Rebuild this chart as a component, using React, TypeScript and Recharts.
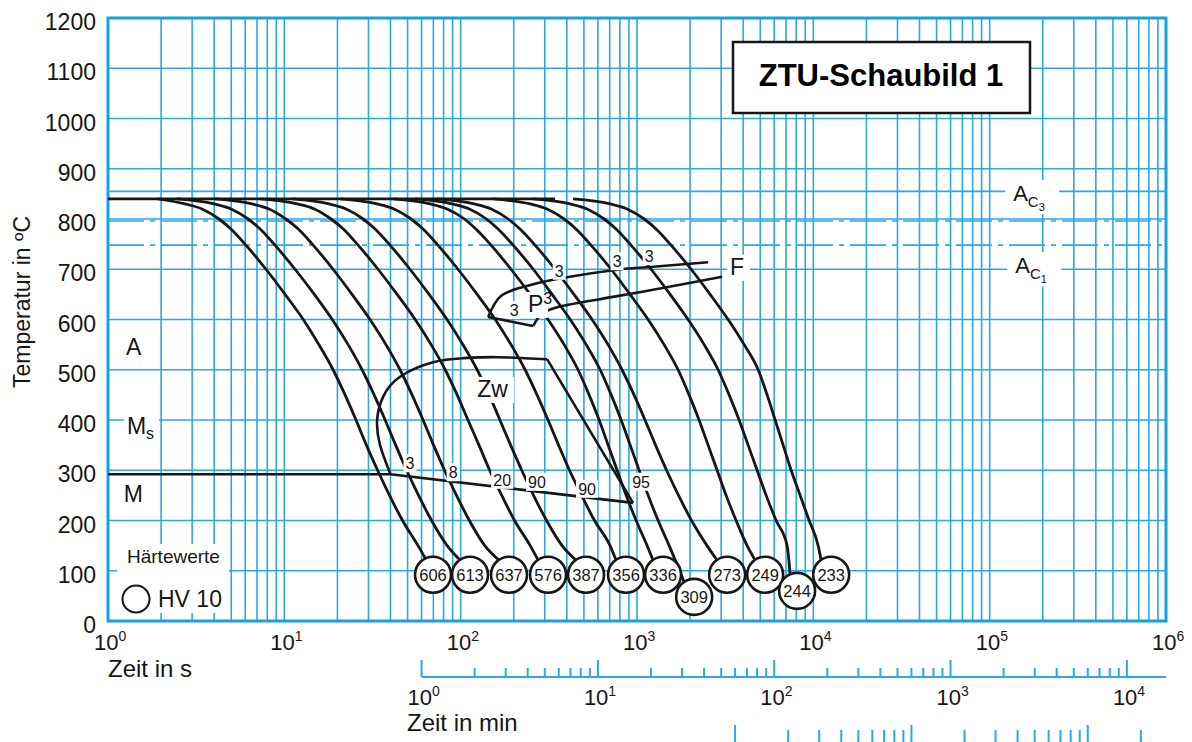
import React from "react";
import {
  ComposedChart,
  Line,
  Scatter,
  XAxis,
  YAxis,
  CartesianGrid,
  ReferenceLine,
  ReferenceArea,
} from "recharts";

const W = 1192;
const H = 742;
const PLOT_RIGHT = 1166;
const BLUE = "#2aa9e2";
const FRAME = "#14a2e0";
const INK = "#161616";
const FONT = "'Liberation Sans', Arial, Helvetica, sans-serif";

// axis ticks
const SEC_TICKS = [
  1, 2, 3, 4, 5, 6, 7, 8, 9, 10, 20, 30, 40, 50, 60, 70, 80, 90, 100, 200, 300, 400, 500, 600, 700, 800, 900,
  1000, 2000, 3000, 4000, 5000, 6000, 7000, 8000, 9000, 10000, 20000, 30000, 40000, 50000, 60000, 70000, 80000,
  90000, 100000, 200000, 300000, 400000, 500000, 600000, 700000, 800000, 900000, 1000000,
];
const MIN_TICKS = [
  1, 2, 3, 4, 5, 6, 7, 8, 9, 10, 20, 30, 40, 50, 60, 70, 80, 90, 100, 200, 300, 400, 500, 600, 700, 800, 900,
  1000, 2000, 3000, 4000, 5000, 6000, 7000, 8000, 9000, 10000,
];
const HOUR_TICKS = [1, 2, 3, 4, 5, 6, 7, 8, 9, 10, 20, 30, 40, 50, 60, 70, 80, 90, 100, 200];
const TEMP_TICKS = [0, 100, 200, 300, 400, 500, 600, 700, 800, 900, 1000, 1100, 1200];

const COOL_TEMPS = [840, 830, 820, 800, 780, 750, 700, 650, 600, 550, 500, 450, 400, 350, 300, 250, 200, 150];

// time in s of each cooling curve at COOL_TEMPS
const c606 = [1.92, 2.73, 3.41, 4.26, 4.98, 5.98, 7.87, 10.1, 12.8, 15.7, 18.9, 22.1, 25.5, 29.2, 33.8, 39.5, 46.8, 57.3];
const c613 = [2.46, 4.0, 4.99, 6.23, 7.29, 8.75, 11.5, 14.8, 18.7, 23.0, 27.6, 32.3, 37.3, 42.8, 49.4, 57.7, 68.4, 83.8];
const c637 = [4.04, 6.55, 8.18, 10.2, 12.0, 14.4, 18.9, 24.2, 30.6, 37.7, 45.3, 53.0, 61.2, 70.2, 81.0, 94.7, 112, 137];
const c576 = [7.29, 11.8, 14.8, 18.4, 21.6, 25.9, 34.0, 43.6, 55.2, 68.0, 81.7, 95.5, 110, 127, 146, 171, 202, 248];
const c387 = [11.1, 17.9, 22.4, 28.0, 32.7, 39.3, 51.6, 66.2, 83.7, 103, 124, 145, 167, 192, 222, 259, 307, 376];
const c356 = [20.7, 33.5, 41.9, 52.3, 61.2, 73.4, 96.6, 124, 157, 193, 232, 271, 313, 359, 414, 485, 574, 703];
const c336 = [41.4, 67.1, 83.8, 105, 122, 147, 193, 248, 313, 386, 463, 535, 610, 686, 771, 868, 989, 1141];
const c309 = [55.2, 89.4, 112, 140, 163, 196, 258, 330, 418, 515, 618, 714, 813, 915, 1028, 1157, 1318, 1522];
const c273 = [73.4, 119, 149, 186, 217, 261, 343, 439, 556, 685, 822, 962, 1110, 1274, 1471, 1720, 2038, 2495];
const c249 = [153, 248, 309, 386, 451, 542, 713, 913, 1156, 1424, 1710, 1974, 2249, 2531, 2846, 3202, 3648, 4211];
const c244 = [257, 417, 521, 651, 761, 914, 1202, 1541, 1949, 2403, 2884, 3330, 3794, 4268, 4800, 5400, 6152, 7102];
const c233 = [434, 704, 879, 1098, 1283, 1541, 2028, 2598, 3287, 4052, 4864, 5470, 6074, 6743, 7486, 8418, 9469, 10650];
const CURVE_TIMES = [c606, c613, c637, c576, c387, c356, c336, c309, c273, c249, c244, c233];

// where each curve runs into its hardness circle
const END_TIME = [64.4, 99.3, 165, 275, 451, 761, 1233, 1849, 2844, 4677, 7386, 11070];
const END_TEMP = [119, 121, 121, 121, 121, 121, 121, 78, 121, 121, 92, 121];

// hardness HV 10 at the end of each curve
const HV = [606, 613, 637, 576, 387, 356, 336, 309, 273, 249, 244, 233];
const HV_TIME = [69.7, 113, 188, 313, 514, 867, 1406, 2109, 3245, 5330, 8090, 12620];
const HV_TEMP = [92, 92, 92, 92, 92, 92, 92, 48, 92, 92, 60, 92];

// austenitizing hold line
const HOLD_TIME = [1, 343];
const HOLD_TEMP = [840, 840];

// martensite start line
const MS_TIME = [1, 40, 950];
const MS_TEMP = [292, 292, 235];

// bainite (Zw) boundary
const ZW_TIME = [40, 34.9, 33.6, 36.3, 45.3, 69.7, 103, 161, 309];
const ZW_TEMP = [292, 350, 400, 446, 486, 515, 523, 525, 521];
const ZW_END_TIME = [309, 950];
const ZW_END_TEMP = [521, 235];

// ferrite / pearlite start
const F_TIME = [143, 167, 217, 334, 731, 1141, 2531];
const F_TEMP = [605, 645, 663, 679, 698, 704, 714];
const P_NOSE_TIME = [143, 198, 258];
const P_NOSE_TEMP = [605, 595, 587];
const P_TIME = [258, 293, 401, 731, 1755, 3040];
const P_TEMP = [587, 613, 629, 645, 669, 685];

// transformation amounts in %
const PCT_TEXT = ["3", "8", "20", "90", "90", "95", "3", "3", "3", "3"];
const PCT_TIME = [51.6, 90.6, 172, 271, 521, 1055, 201, 362, 771, 1172];
const PCT_TEMP = [314, 296, 281, 277, 263, 277, 619, 697, 716, 726];

// phase field names
const PHASE_TEXT = ["A", "M", "M", "Zw", "P", "F"];
const PHASE_SUB = ["", "s", "", "", "", ""];
const PHASE_SUP = ["", "", "", "", "3", ""];
const PHASE_TIME = [1.265, 1.28, 1.23, 124, 241, 3373];
const PHASE_TEMP = [529, 372, 237, 446, 615, 689];

// Ac3 / Ac1
const AC_INDEX = ["3", "1"];
const AC_LINE = [796, 748];
const AC_TIME = [135900, 139600];
const AC_TEMP = [836, 692];
const AUST_LINE = 855;

const pts = (ts: number[], Ts: number[]) => ts.map((t, i) => ({ t, T: Ts[i] }));

const curves = CURVE_TIMES.map((times, i) => [
  ...pts(times, COOL_TEMPS),
  { t: END_TIME[i], T: END_TEMP[i] },
]);
const hvPoints = HV.map((hv, i) => ({ t: HV_TIME[i], T: HV_TEMP[i], hv }));
const pctPoints = PCT_TEXT.map((text, i) => ({ t: PCT_TIME[i], T: PCT_TEMP[i], text }));
const phasePoints = PHASE_TEXT.map((text, i) => ({
  t: PHASE_TIME[i],
  T: PHASE_TEMP[i],
  text,
  sub: PHASE_SUB[i],
  sup: PHASE_SUP[i],
}));
const acPoints = AC_INDEX.map((idx, i) => ({ t: AC_TIME[i], T: AC_TEMP[i], idx }));
// the extra time scales carry no marks; these keep their axes alive
const minScale = MIN_TICKS.map((t) => ({ t, T: 0 }));
const hourScale = HOUR_TICKS.map((t) => ({ t, T: 0 }));

const isDecade = (v: number) => /^10*$/.test(String(v));

function SecTick({ x, y, payload }: any) {
  const s = String(payload.value);
  if (!isDecade(payload.value)) return <g />;
  return (
    <text x={x - 14} y={y + 29} fontSize={22} fill={INK} fontFamily={FONT}>
      10
      <tspan dy={-9} fontSize={14}>
        {s.length - 1}
      </tspan>
    </text>
  );
}

function MinTick({ x, y, payload }: any) {
  const major = isDecade(payload.value);
  const s = String(payload.value);
  return (
    <g>
      {payload.value === 1 && (
        <line x1={x} y1={y + 16} x2={PLOT_RIGHT} y2={y + 16} stroke={BLUE} strokeWidth={2} />
      )}
      <line x1={x} x2={x} y1={y + (major ? -1 : 7)} y2={y + 16} stroke={BLUE} strokeWidth={2} />
      {major && (
        <text x={x - 14} y={y + 44} fontSize={22} fill={INK} fontFamily={FONT}>
          10
          <tspan dy={-9} fontSize={14}>
            {s.length - 1}
          </tspan>
        </text>
      )}
    </g>
  );
}

function HourTick({ x, y, payload }: any) {
  const major = isDecade(payload.value);
  return <line x1={x} x2={x} y1={y + (major ? 14 : 19)} y2={y + 40} stroke={BLUE} strokeWidth={2} />;
}

function HardnessDot({ cx, cy, payload }: any) {
  return (
    <g>
      <circle cx={cx} cy={cy} r={18} fill="#fff" stroke={INK} strokeWidth={2.6} />
      <text x={cx} y={cy + 6} textAnchor="middle" fontSize={16.5} fill={INK} fontFamily={FONT}>
        {payload.hv}
      </text>
    </g>
  );
}

function PctLabel({ cx, cy, payload }: any) {
  const w = payload.text.length * 9 + 4;
  return (
    <g>
      <rect x={cx - w / 2} y={cy - 9} width={w} height={18} fill="#fff" />
      <text x={cx} y={cy + 6} textAnchor="middle" fontSize={16} fill={INK} fontFamily={FONT}>
        {payload.text}
      </text>
    </g>
  );
}

function PhaseLabel({ cx, cy, payload }: any) {
  const w = payload.text.length * 17 + (payload.sub ? 12 : 0) + 6;
  return (
    <g>
      <rect x={cx - 3} y={cy - 20} width={w} height={26} fill="#fff" />
      <text x={cx} y={cy} fontSize={23} fill={INK} fontFamily={FONT}>
        {payload.text}
        {payload.sub && (
          <tspan dy={5} fontSize={16}>
            {payload.sub}
          </tspan>
        )}
        {payload.sup && (
          <tspan dy={-8} fontSize={16}>
            {payload.sup}
          </tspan>
        )}
      </text>
    </g>
  );
}

function AcLabel({ cx, cy, payload }: any) {
  return (
    <g>
      <rect x={cx - 8} y={cy - 21} width={54} height={34} fill="#fff" />
      <text x={cx} y={cy} fontSize={22} fill={INK} fontFamily={FONT}>
        A
        <tspan dy={6} fontSize={15}>
          C
        </tspan>
        <tspan dy={4} fontSize={11}>
          {payload.idx}
        </tspan>
      </text>
    </g>
  );
}

const hidden = { stroke: "none", dot: false, isAnimationActive: false, legendType: "none" as const };

export default function App(): React.JSX.Element {
  return (
    <div style={{ position: "absolute", left: 0, top: 0, width: W, height: H, background: "#fff" }}>
      <ComposedChart width={W} height={H} margin={{ top: 18, right: 26, bottom: 0, left: 0 }}>
        <CartesianGrid stroke={BLUE} strokeWidth={1.6} />
        <XAxis
          dataKey="t"
          type="number"
          scale="log"
          domain={[1, 1000000]}
          ticks={SEC_TICKS}
          interval={0}
          allowDataOverflow
          axisLine={false}
          tickLine={false}
          tickSize={0}
          tickMargin={0}
          height={40}
          tick={SecTick}
        />
        <XAxis
          xAxisId={2}
          dataKey="t"
          type="number"
          scale="log"
          domain={[1 / 3600, 1000000 / 3600]}
          ticks={HOUR_TICKS}
          interval={0}
          allowDataOverflow
          axisLine={false}
          tickLine={false}
          tickSize={0}
          tickMargin={0}
          height={31}
          tick={HourTick}
        />
        <XAxis
          xAxisId={1}
          dataKey="t"
          type="number"
          scale="log"
          domain={[1 / 60, 1000000 / 60]}
          ticks={MIN_TICKS}
          interval={0}
          allowDataOverflow
          axisLine={false}
          tickLine={false}
          tickSize={0}
          tickMargin={0}
          height={50}
          tick={MinTick}
        />
        <YAxis
          dataKey="T"
          type="number"
          domain={[0, 1200]}
          ticks={TEMP_TICKS}
          interval={0}
          allowDataOverflow
          width={108}
          axisLine={false}
          tickLine={false}
          tickSize={0}
          tickMargin={12}
          tick={{ fill: INK, fontSize: 23, fontFamily: FONT, dy: 4 }}
        />
        <ReferenceLine y={AUST_LINE} stroke={BLUE} strokeWidth={1.6} />
        {AC_LINE.map((y) => (
          <ReferenceLine key={y} y={y} stroke={BLUE} strokeWidth={1.6} strokeDasharray="36 6 5 6" />
        ))}
        <ReferenceArea
          x1={1}
          x2={1000000}
          y1={0}
          y2={1200}
          fill="none"
          stroke={FRAME}
          strokeWidth={3}
          ifOverflow="visible"
        />

        <Line xAxisId={2} data={hourScale} dataKey="T" {...hidden} />
        <Line xAxisId={1} data={minScale} dataKey="T" {...hidden} />

        <Line data={pts(HOLD_TIME, HOLD_TEMP)} dataKey="T" type="linear" stroke={INK} strokeWidth={2.8} dot={false} isAnimationActive={false} />
        <Line data={pts(MS_TIME, MS_TEMP)} dataKey="T" type="linear" stroke={INK} strokeWidth={2.6} dot={false} isAnimationActive={false} />
        <Line data={pts(ZW_TIME, ZW_TEMP)} dataKey="T" type="natural" stroke={INK} strokeWidth={2.6} dot={false} isAnimationActive={false} />
        <Line data={pts(ZW_END_TIME, ZW_END_TEMP)} dataKey="T" type="linear" stroke={INK} strokeWidth={2.6} dot={false} isAnimationActive={false} />
        <Line data={pts(F_TIME, F_TEMP)} dataKey="T" type="natural" stroke={INK} strokeWidth={2.6} dot={false} isAnimationActive={false} />
        <Line data={pts(P_NOSE_TIME, P_NOSE_TEMP)} dataKey="T" type="natural" stroke={INK} strokeWidth={2.6} dot={false} isAnimationActive={false} />
        <Line data={pts(P_TIME, P_TEMP)} dataKey="T" type="natural" stroke={INK} strokeWidth={2.6} dot={false} isAnimationActive={false} />

        {curves.map((c, i) => (
          <Line
            key={HV[i]}
            data={c}
            dataKey="T"
            type="monotone"
            stroke={INK}
            strokeWidth={2.8}
            dot={false}
            isAnimationActive={false}
          />
        ))}

        <Scatter data={pctPoints} dataKey="T" shape={PctLabel} isAnimationActive={false} />
        <Scatter data={phasePoints} dataKey="T" shape={PhaseLabel} isAnimationActive={false} />
        <Scatter data={acPoints} dataKey="T" shape={AcLabel} isAnimationActive={false} />
        <Scatter data={hvPoints} dataKey="T" shape={HardnessDot} isAnimationActive={false} />
      </ComposedChart>

      <svg
        width={W}
        height={H}
        style={{ position: "absolute", left: 0, top: 0, pointerEvents: "none" }}
        fontFamily={FONT}
      >
        <rect x={733} y={42} width={297} height={71} fill="#fff" stroke={INK} strokeWidth={2.5} />
        <text x={881} y={86} textAnchor="middle" fontSize={31} fontWeight="bold" fill="#000">
          ZTU-Schaubild 1
        </text>
        <rect x={117} y={544} width={112} height={69} fill="#fff" />
        <text x={127} y={563} fontSize={19} fill={INK}>
          Härtewerte
        </text>
        <circle cx={136} cy={599} r={13.5} fill="none" stroke={INK} strokeWidth={2} />
        <text x={158} y={607} fontSize={23} fill={INK}>
          HV 10
        </text>
        <text x={108} y={677} fontSize={24} fill={INK}>
          Zeit in s
        </text>
        <text x={407} y={731} fontSize={24} fill={INK}>
          Zeit in min
        </text>
        <text transform="translate(30,302) rotate(-90)" textAnchor="middle" fontSize={23} fill={INK}>
          Temperatur in ºC
        </text>
      </svg>
    </div>
  );
}
